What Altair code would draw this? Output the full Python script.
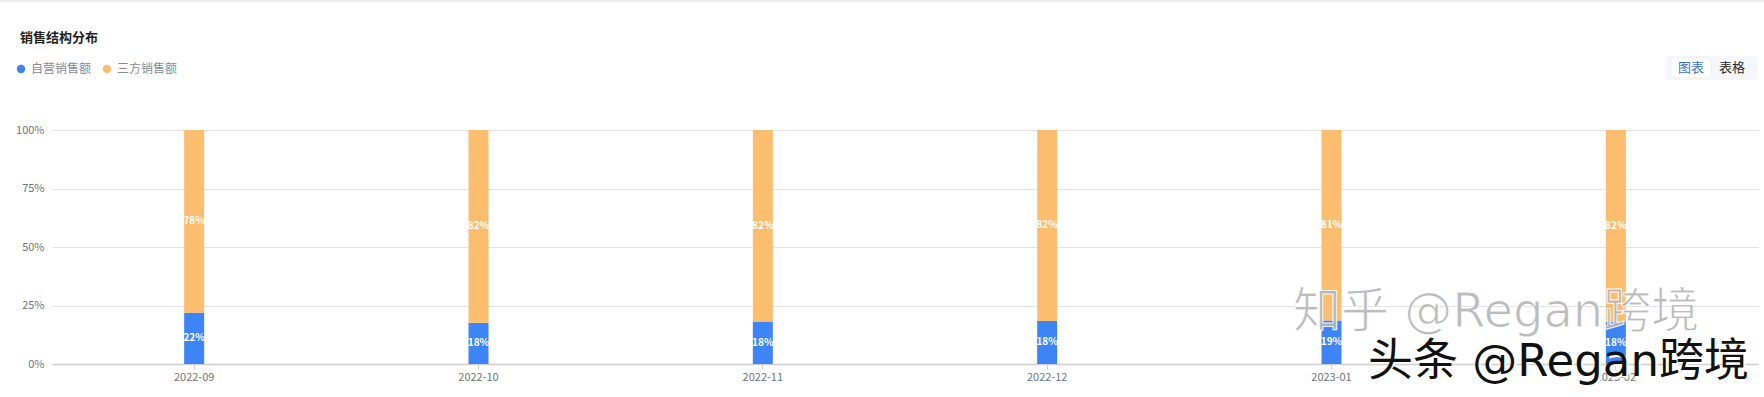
import altair as alt
import pandas as pd

months = ["2022-09", "2022-10", "2022-11", "2022-12", "2023-01", "2023-02"]
self_share = [21.9, 17.6, 18.2, 18.4, 18.6, 17.9]
third_share = [78.1, 82.4, 81.8, 81.6, 81.4, 82.1]
series = ["自营销售额", "三方销售额"]
colors = ["#3d84f7", "#fdbd6f"]

rows = []
for i, m in enumerate(months):
    rows.append({"month": m, "series": series[0], "value": self_share[i], "ord": 0})
    rows.append({"month": m, "series": series[1], "value": third_share[i], "ord": 1})
df = pd.DataFrame(rows)

FONT = "Noto Sans CJK SC"
WFONT = "DejaVu Sans, Noto Sans CJK SC"

base = alt.Chart(df).transform_stack(
    stack="value", groupby=["month"], as_=["v0", "v1"],
    sort=[alt.SortField("ord", order="ascending")]
).transform_calculate(
    mid="(datum.v0 + datum.v1) / 2",
    lab="round(datum.value) + '%'"
)

x_enc = alt.X("month:N", sort=months, title=None,
              scale=alt.Scale(paddingInner=0, paddingOuter=0),
              axis=alt.Axis(labelAngle=0, labelFontSize=11, labelColor="#6e7580",
                            labelFont=FONT, domainColor="#cfcfcf", domainWidth=1.5,
                            tickColor="#cfcfcf", tickSize=5, labelPadding=2, grid=False))

bars = base.mark_bar(size=20).encode(
    x=x_enc,
    y=alt.Y("v0:Q", title=None, scale=alt.Scale(domain=[0, 100], nice=False),
            axis=alt.Axis(values=[0, 25, 50, 75, 100], labelExpr="datum.value + '%'",
                          labelFontSize=11, labelColor="#6e7580", labelFont=FONT,
                          domain=False, ticks=False, labelPadding=8,
                          gridColor="#e3e3e3", gridWidth=1.2)),
    y2="v1:Q",
    color=alt.Color("series:N", scale=alt.Scale(domain=series, range=colors),
                    legend=alt.Legend(orient="none", legendX=-37, legendY=-67,
                                      direction="horizontal", title=None,
                                      symbolType="circle", symbolSize=70,
                                      symbolStrokeWidth=0,
                                      labelFontSize=12, labelColor="#878c96",
                                      labelFont=FONT, columnPadding=9,
                                      labelOffset=4)),
)

labels = base.mark_text(color="white", fontSize=10, fontWeight="bold", font=FONT,
                        baseline="middle").encode(
    x=alt.X("month:N", sort=months),
    y=alt.Y("mid:Q"),
    text="lab:N",
)

one = alt.Data(values=[{"a": 1}])

title = alt.Chart(one).mark_text(text="销售结构分布", align="left", baseline="middle",
                                 fontSize=13, fontWeight="bold", color="#1f1f1f",
                                 font=FONT).encode(x=alt.value(-32), y=alt.value(-92))

topline = alt.Chart(one).mark_rule(color="#e6e6e6", strokeWidth=1.5).encode(
    x=alt.value(-52), x2=alt.value(1712), y=alt.value(-129))

btn_panel = alt.Chart(one).mark_rect(color="#f6f7fa", cornerRadius=3).encode(
    x=alt.value(1614), x2=alt.value(1706), y=alt.value(-74), y2=alt.value(-50))
btn_active = alt.Chart(one).mark_rect(color="#ffffff", cornerRadius=3,
                                      stroke="#eef0f4").encode(
    x=alt.value(1619), x2=alt.value(1659), y=alt.value(-72), y2=alt.value(-52))
btn1 = alt.Chart(one).mark_text(text="图表", fontSize=13, color="#3a73c9", font=FONT,
                                baseline="middle").encode(x=alt.value(1639), y=alt.value(-62))
btn2 = alt.Chart(one).mark_text(text="表格", fontSize=13, color="#2b2b2b", font=FONT,
                                baseline="middle").encode(x=alt.value(1680), y=alt.value(-62))

wm1 = alt.Chart(one).mark_text(text="知乎 @Regan跨境", fontSize=48, color="#b5b5b5",
                               stroke="#ffffff", strokeWidth=1, font=WFONT, align="left",
                               baseline="middle", opacity=0.9).encode(
    x=alt.value(1241), y=alt.value(183))
wm2_shadow = alt.Chart(one).mark_text(text="头条 @Regan跨境", fontSize=45, color="#ffffff",
                                      font=WFONT, align="left", baseline="middle").encode(
    x=alt.value(1318), y=alt.value(234))
wm2 = alt.Chart(one).mark_text(text="头条 @Regan跨境", fontSize=45, color="#111111",
                               font=WFONT, align="left", baseline="middle").encode(
    x=alt.value(1316), y=alt.value(232))

chart = alt.layer(topline, bars, labels, title, btn_panel, btn_active, btn1, btn2,
                  wm1, wm2_shadow, wm2).properties(
    width=1706, height=234,
    background="white",
    autosize=alt.AutoSizeParams(type="none"),
    padding={"left": 52, "top": 130, "right": 6, "bottom": 33},
).configure_view(strokeWidth=0)

chart.save("out.html", embed_options={"renderer": "svg", "actions": False})
